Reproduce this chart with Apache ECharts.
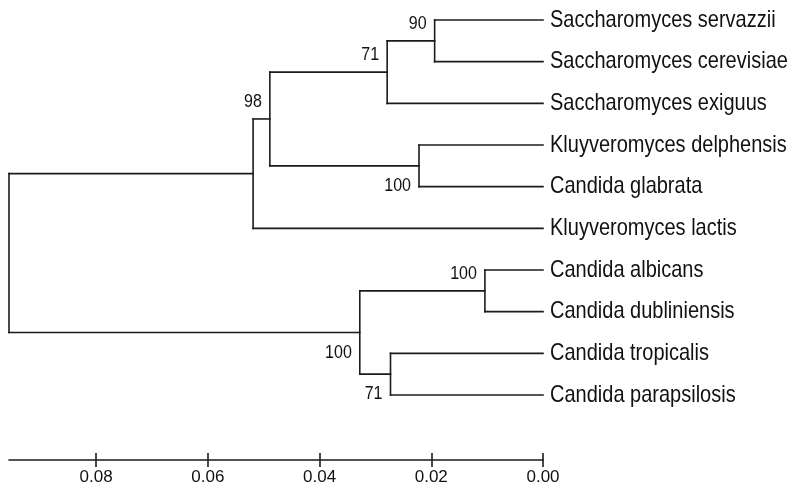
<!DOCTYPE html>
<html><head><meta charset="utf-8">
<script src="https://cdn.jsdelivr.net/npm/echarts@6/dist/echarts.min.js"></script>
<style>html,body{margin:0;padding:0;background:#fff}#c{width:796px;height:488px}</style>
</head><body><div id="c"></div>
<script>
// ---- data ----
const leafNames = [
  'Saccharomyces servazzii',
  'Saccharomyces cerevisiae',
  'Saccharomyces exiguus',
  'Kluyveromyces delphensis',
  'Candida glabrata',
  'Kluyveromyces lactis',
  'Candida albicans',
  'Candida dubliniensis',
  'Candida tropicalis',
  'Candida parapsilosis'
];
// internal nodes: ids start after leaves (10, 11, ...)
const nodeChildren = [[0,1],[10,2],[3,4],[11,12],[13,5],[6,7],[8,9],[15,16],[14,17]];
const nodeHeights  = [0.0194, 0.0279, 0.0222, 0.0489, 0.0519, 0.0104, 0.0273, 0.0328, 0.0956];
const bootstrap    = [90, 71, 100, 98, null, 100, 71, 100, null];
const tickValues   = [0, 0.02, 0.04, 0.06, 0.08];

// ---- style (label side for bootstrap values) ----
const bootstrapSide = ['above','above','below','above',null,'above','below','below',null];

// ---- layout from tree structure ----
const nLeaf = leafNames.length;
const posX = [], posY = [];
for (let i = 0; i < nLeaf; i++) { posX[i] = 0; posY[i] = i; }
nodeChildren.forEach((ch, k) => {
  const id = nLeaf + k;
  posX[id] = nodeHeights[k];
  posY[id] = (posY[ch[0]] + posY[ch[1]]) / 2;
});
const segs = [];
nodeChildren.forEach((ch, k) => {
  const id = nLeaf + k, x = posX[id];
  segs.push([x, posY[ch[0]], x, posY[ch[1]]]);
  ch.forEach(c => segs.push([x, posY[c], posX[c], posY[c]]));
});
const bsData = [], bsText = [], bsSide = [];
nodeChildren.forEach((ch, k) => {
  if (bootstrap[k] == null) return;
  const id = nLeaf + k;
  bsData.push([posX[id], posY[id]]);
  bsText.push(String(bootstrap[k]));
  bsSide.push(bootstrapSide[k]);
});
const leafData = leafNames.map((n, i) => [0, i]);

const INK = '#1b1b1b', TXT = '#111';
const FONT = '"Liberation Sans", Arial, sans-serif';
const maxX = nodeHeights[nodeHeights.length - 1];

const chart = echarts.init(document.getElementById('c'), null, {renderer: 'canvas'});
chart.setOption({
  animation: false,
  backgroundColor: '#fff',
  grid: {left: 9, right: 253, top: 20, bottom: 28},
  xAxis: [{
    type: 'value', inverse: true, min: 0, max: maxX, position: 'bottom',
    axisLine: {show: true, onZero: false, lineStyle: {color: INK, width: 1.6}},
    axisTick: {show: true, length: 7, customValues: tickValues, lineStyle: {color: INK, width: 1.6}},
    axisLabel: {customValues: tickValues, formatter: v => v.toFixed(2), fontSize: 17, color: TXT, margin: 9, fontFamily: FONT},
    splitLine: {show: false}
  }, {
    type: 'value', inverse: true, min: 0, max: maxX, position: 'top', offset: -440,
    axisLine: {show: false, onZero: false},
    axisTick: {show: true, length: 7, customValues: tickValues, lineStyle: {color: INK, width: 1.6}},
    axisLabel: {show: false},
    splitLine: {show: false}
  }],
  yAxis: {type: 'value', inverse: true, min: 0, max: 10.56, show: false},
  series: [{
    type: 'custom', silent: true, data: segs, encode: {x: [0, 2], y: [1, 3]},
    renderItem: (params, api) => {
      const p1 = api.coord([api.value(0), api.value(1)]);
      const p2 = api.coord([api.value(2), api.value(3)]);
      return {type: 'line', shape: {x1: p1[0], y1: p1[1], x2: p2[0], y2: p2[1]},
        style: {stroke: INK, lineWidth: 1.6, lineCap: 'square'}};
    }
  }, {
    type: 'custom', silent: true, data: leafData, encode: {x: 0, y: 1},
    renderItem: (params, api) => {
      const p = api.coord([api.value(0), api.value(1)]);
      return {type: 'text', x: p[0] + 7, y: p[1], scaleY: 1.18,
        style: {text: leafNames[params.dataIndex], fontSize: 20, fontFamily: FONT, fill: TXT,
          align: 'left', verticalAlign: 'middle'}};
    }
  }, {
    type: 'custom', silent: true, data: bsData, encode: {x: 0, y: 1},
    renderItem: (params, api) => {
      const p = api.coord([api.value(0), api.value(1)]);
      const dy = bsSide[params.dataIndex] === 'above' ? -17 : 20;
      return {type: 'text', x: p[0] - 8, y: p[1] + dy, scaleY: 1.2,
        style: {text: bsText[params.dataIndex], fontSize: 16, fontFamily: FONT, fill: TXT,
          align: 'right', verticalAlign: 'middle'}};
    }
  }]
});
</script></body></html>
